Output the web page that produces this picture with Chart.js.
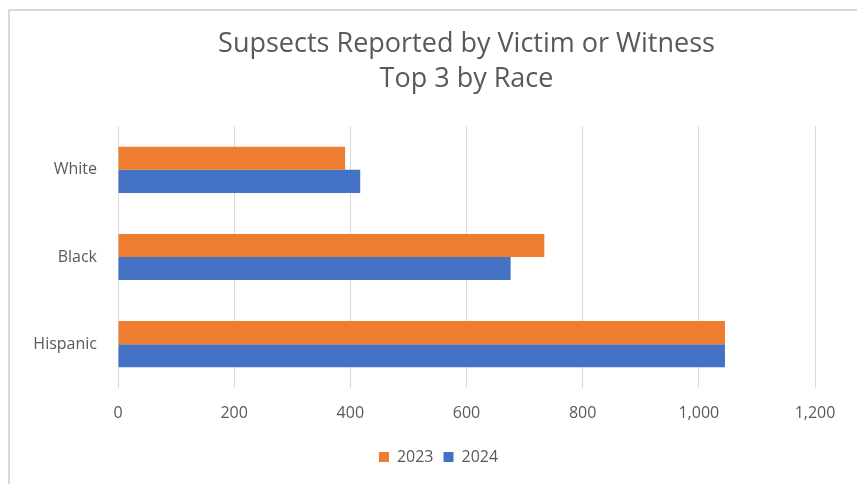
<!DOCTYPE html>
<html>
<head>
<meta charset="utf-8">
<script src="https://cdn.jsdelivr.net/npm/chart.js@4.4.1/dist/chart.umd.min.js"></script>
<style>
    html, body { margin: 0; padding: 0; background: #fff; overflow: hidden; }
    #frame {
        position: absolute; left: 8px; top: 9px; width: 900px; height: 520px;
        border: 2px solid #d9d9d9; box-sizing: border-box;
    }
    #wrap { position: absolute; left: 0; top: 0; width: 857px; height: 484px; }
</style>
</head>
<body>
<div id="frame"></div>
<div id="wrap"><canvas id="chart"></canvas></div>
<script>
const races = ['White', 'Black', 'Hispanic'];
const values2023 = [391, 734, 1045];
const values2024 = [417, 676, 1045];
const seriesNames = ['2023', '2024'];
const xTicks = [0, 200, 400, 600, 800, 1000, 1200];

const textColor = '#595959';
const fontFamily = "'Open Sans', sans-serif";
const padLeft = 20;

document.addEventListener('DOMContentLoaded', function() {
    const ctx = document.getElementById('chart');

    new Chart(ctx, {
        type: 'bar',
        data: {
            labels: races,
            datasets: [{
                label: seriesNames[0],
                data: values2023,
                backgroundColor: '#ED7D31',
                barPercentage: 1,
                categoryPercentage: 0.53
            }, {
                label: seriesNames[1],
                data: values2024,
                backgroundColor: '#4472C4',
                barPercentage: 1,
                categoryPercentage: 0.53
            }]
        },
        options: {
            indexAxis: 'y',
            responsive: true,
            maintainAspectRatio: false,
            animation: false,
            layout: {
                padding: { left: padLeft, right: 0, top: 10, bottom: 9 }
            },
            plugins: {
                title: {
                    display: true,
                    fullSize: false,
                    text: ['Supsects Reported by Victim or Witness', 'Top 3 by Race'],
                    color: textColor,
                    font: { family: fontFamily, size: 27, weight: 'normal', lineHeight: 1.3 },
                    padding: { top: 17, bottom: 29 }
                },
                legend: {
                    position: 'bottom',
                    labels: {
                        color: textColor,
                        boxWidth: 10,
                        boxHeight: 10,
                        padding: 10,
                        font: { family: fontFamily, size: 16 }
                    }
                },
                tooltip: { enabled: false }
            },
            scales: {
                x: {
                    min: 0,
                    max: 1200,
                    afterBuildTicks: function(scale) {
                        scale.ticks = xTicks.map(v => ({ value: v }));
                    },
                    afterFit: function(scale) {
                        // leave room on the right so the plot ends near x=815
                        scale.paddingRight = 42;
                    },
                    grid: { color: '#d9d9d9', lineWidth: 1, drawTicks: false },
                    border: { display: false },
                    ticks: {
                        color: textColor,
                        padding: 16,
                        font: { family: fontFamily, size: 16 },
                        callback: function(value) {
                            return value.toLocaleString('en-US');
                        }
                    }
                },
                y: {
                    grid: { display: false, drawTicks: false },
                    border: { display: false },
                    afterFit: function(scale) {
                        scale.width = 118 - padLeft;
                    },
                    ticks: {
                        color: textColor,
                        padding: 21,
                        font: { family: fontFamily, size: 16 }
                    }
                }
            }
        }
    });
});
</script>
</body>
</html>
